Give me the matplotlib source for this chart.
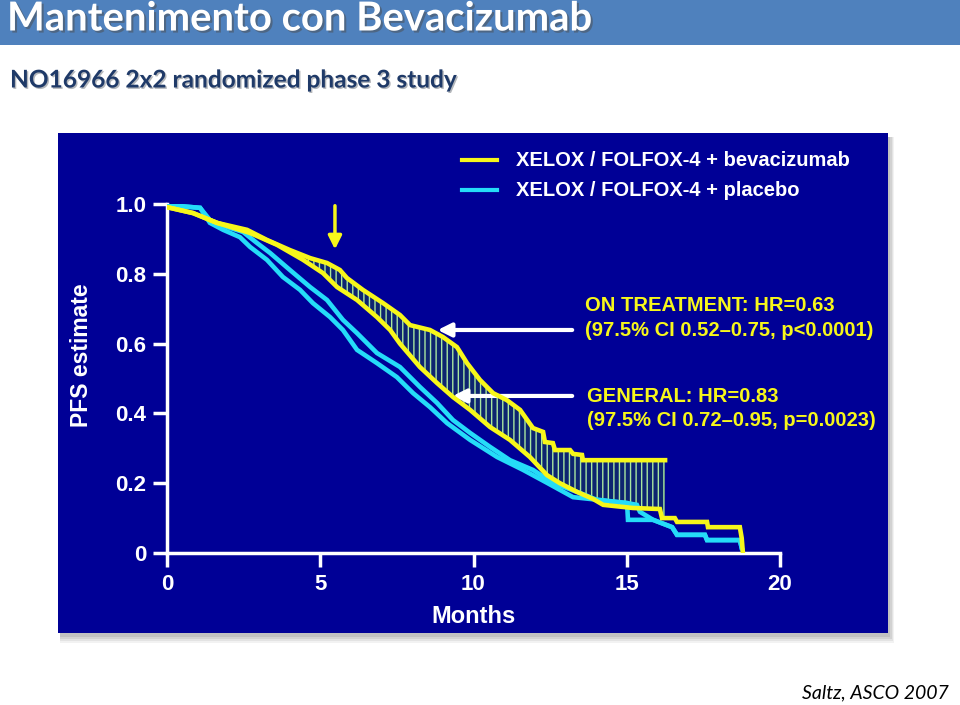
import numpy as np
import matplotlib.pyplot as plt
from matplotlib.patches import Rectangle
from matplotlib.lines import Line2D
import matplotlib.patheffects as pe

# PFS curves (months, PFS estimate)
bev_on_t = [0, 0.85, 1.63, 2.61, 3.26, 4.01, 4.67, 5.22, 5.64, 5.87, 6.39, 7.05, 7.60, 7.93,
            8.58, 9.00, 9.46, 9.79, 10.21, 10.64, 11.09, 11.52, 11.94, 12.27, 12.33, 12.59,
            12.66, 13.15, 13.25, 13.54, 13.57, 16.25]
bev_on_s = [0.991, 0.974, 0.946, 0.926, 0.897, 0.868, 0.845, 0.831, 0.811, 0.788, 0.754, 0.716,
            0.682, 0.653, 0.639, 0.619, 0.590, 0.544, 0.496, 0.458, 0.438, 0.410, 0.358, 0.347,
            0.318, 0.315, 0.295, 0.295, 0.284, 0.281, 0.266, 0.266]

bev_gen_t = [0, 0.85, 1.63, 2.71, 3.59, 4.44, 5.09, 5.55, 6.20, 6.85, 7.28, 7.60, 8.25, 8.81,
             9.33, 9.89, 10.54, 11.19, 11.84, 12.40, 12.82, 13.38, 13.90, 14.23, 15.20, 16.08,
             16.15, 16.57, 16.64, 17.62, 17.65, 18.69, 18.75, 18.79]
bev_gen_s = [0.991, 0.974, 0.946, 0.917, 0.883, 0.840, 0.802, 0.762, 0.725, 0.676, 0.639, 0.600,
             0.533, 0.487, 0.447, 0.410, 0.361, 0.324, 0.275, 0.223, 0.200, 0.175, 0.155, 0.138,
             0.129, 0.126, 0.100, 0.100, 0.089, 0.089, 0.074, 0.074, 0.043, 0.0]

pla_a_t = [0, 1.08, 1.40, 1.96, 2.48, 2.94, 3.36, 4.01, 4.67, 5.22, 5.74, 6.20, 6.85, 7.60,
           8.25, 8.81, 9.33, 9.89, 10.54, 11.19, 11.94, 12.59, 13.47, 14.03, 15.01, 15.04,
           15.86, 16.48, 16.64, 17.55, 17.62, 18.69, 18.75]
pla_a_s = [0.997, 0.989, 0.954, 0.934, 0.920, 0.888, 0.860, 0.811, 0.762, 0.725, 0.668, 0.630,
           0.573, 0.533, 0.476, 0.430, 0.381, 0.344, 0.304, 0.266, 0.238, 0.201, 0.172, 0.152,
           0.143, 0.095, 0.095, 0.074, 0.052, 0.052, 0.037, 0.037, 0.015]

pla_b_t = [0, 1.08, 1.40, 1.83, 2.38, 2.71, 3.26, 3.78, 4.34, 4.76, 5.32, 5.74, 6.20, 6.85,
           7.50, 8.03, 8.58, 9.14, 9.89, 10.77, 11.62, 12.40, 13.25, 14.11, 15.01, 15.33,
           15.43, 15.86, 16.48, 16.64, 17.55, 17.62, 18.69, 18.75]
pla_b_s = [0.997, 0.989, 0.946, 0.926, 0.905, 0.877, 0.840, 0.791, 0.754, 0.716, 0.676, 0.639,
           0.582, 0.544, 0.504, 0.458, 0.418, 0.372, 0.324, 0.275, 0.238, 0.201, 0.160, 0.152,
           0.143, 0.138, 0.118, 0.095, 0.074, 0.052, 0.052, 0.037, 0.037, 0.015]

x_ticks = [0, 5, 10, 15, 20]
y_ticks = [0, 0.2, 0.4, 0.6, 0.8, 1.0]
y_ticklabels = ['0', '0.2', '0.4', '0.6', '0.8', '1.0']

legend_labels = ['XELOX / FOLFOX-4 + bevacizumab', 'XELOX / FOLFOX-4 + placebo']
on_text = ['ON TREATMENT: HR=0.63', '(97.5% CI 0.52\u20130.75, p<0.0001)']
gen_text = ['GENERAL: HR=0.83', '(97.5% CI 0.72\u20130.95, p=0.0023)']

navy = '#000096'
yellow = '#f7f71a'
cyan = '#25dcf8'
W, H = 960, 705

plt.rcParams['font.family'] = ['Liberation Sans', 'DejaVu Sans']

fig = plt.figure(figsize=(9.6, 7.05), dpi=100)
fig.patch.set_facecolor('white')

def box(x0, y0, x1, y1, **kw):
    # rectangle given in slide pixels
    fig.add_artist(Rectangle((x0 / W, 1 - y1 / H), (x1 - x0) / W, (y1 - y0) / H,
                             transform=fig.transFigure, **kw))

# title bar
box(0, 0, W, 45, facecolor='#4f81bd', edgecolor='none', zorder=0)
fig.text(7 / W, 1 - 19 / H, 'Mantenimento con Bevacizumab', color='white', fontsize=28.8,
         family='Lato', fontweight='bold', va='center', ha='left',
         path_effects=[pe.withSimplePatchShadow(offset=(1.5, -1.5), alpha=0.5)])
fig.text(10 / W, 1 - 80 / H, 'NO16966 2x2 randomized phase 3 study', color='#1f3a68',
         fontsize=17.6, family='Lato', fontweight='bold', va='center', ha='left',
         path_effects=[pe.withSimplePatchShadow(offset=(1, -1), alpha=0.3)])
fig.text(949 / W, 1 - 693 / H, 'Saltz, ASCO 2007', color='black', fontsize=14,
         family='Lato', style='italic', va='center', ha='right')

# panel with soft shadow
for i, a in enumerate([0.05, 0.06, 0.07, 0.08]):
    d = 10 - 2 * i
    box(58 + 2, 133 + 4, 888 + d * 0.6, 633 + d, facecolor='black', alpha=a,
        edgecolor='none', zorder=0.5)
box(58, 133, 888, 633, facecolor=navy, edgecolor='none', zorder=1)

ax = fig.add_axes([167 / W, 1 - 553 / H, 613 / W, 349 / H])
ax.patch.set_alpha(0)
ax.set_zorder(2)

# hatched gain between the two bevacizumab curves
grid = np.linspace(0, bev_on_t[-1], 1200)
upper = np.interp(grid, bev_on_t, bev_on_s)
lower = np.interp(grid, bev_gen_t, bev_gen_s)
ax.fill_between(grid, lower, upper, where=upper > lower, interpolate=True,
                facecolor='#0d2470', edgecolor='#a8e6a0', hatch='|||', linewidth=0, zorder=2)

lw = 3.3
ax.plot(pla_b_t, pla_b_s, color=cyan, lw=lw, zorder=3, solid_joinstyle='miter')
ax.plot(pla_a_t, pla_a_s, color=cyan, lw=lw, zorder=3, solid_joinstyle='miter')
ax.plot(bev_gen_t, bev_gen_s, color=yellow, lw=lw, zorder=4, solid_joinstyle='miter')
ax.plot(bev_on_t, bev_on_s, color=yellow, lw=lw, zorder=4, solid_joinstyle='miter')

ax.set_xlim(0, 20)
ax.set_ylim(0, 1)
for s in ['top', 'right']:
    ax.spines[s].set_visible(False)
for s in ['left', 'bottom']:
    ax.spines[s].set_color('white')
    ax.spines[s].set_linewidth(2.5)
ax.set_xticks(x_ticks)
ax.set_xticklabels([str(v) for v in x_ticks])
ax.set_yticks(y_ticks)
ax.set_yticklabels(y_ticklabels)
ax.tick_params(colors='white', width=2.5, length=10, labelsize=16, pad=5)
for lab in ax.get_xticklabels() + ax.get_yticklabels():
    lab.set_fontweight('bold')
ax.set_xlabel('Months', color='white', fontsize=17, fontweight='bold', labelpad=7)
ax.text(-0.1387, 0.567, 'PFS estimate', transform=ax.transAxes, rotation=90, color='white',
        fontsize=16.5, fontweight='bold', ha='center', va='center')

# arrows
ax.annotate('', xy=(5.48, 0.862), xytext=(5.48, 1.003),
            arrowprops=dict(arrowstyle='-|>', color=yellow, lw=2.5, mutation_scale=20),
            annotation_clip=False)
ax.annotate('', xy=(8.74, 0.639), xytext=(13.31, 0.639),
            arrowprops=dict(arrowstyle='-|>', color='white', lw=3, mutation_scale=20),
            annotation_clip=False)
ax.annotate('', xy=(9.23, 0.450), xytext=(13.31, 0.450),
            arrowprops=dict(arrowstyle='-|>', color='white', lw=3, mutation_scale=20),
            annotation_clip=False)

# annotation text
for i, t in enumerate(on_text):
    fig.text(585 / W, 1 - (305 + 25 * i) / H, t, color=yellow, fontsize=14.5,
             fontweight='bold', va='center', ha='left', zorder=5)
for i, t in enumerate(gen_text):
    fig.text(587 / W, 1 - (396 + 24 * i) / H, t, color=yellow, fontsize=14.5,
             fontweight='bold', va='center', ha='left', zorder=5)

# legend
for i, (lab, c) in enumerate(zip(legend_labels, [yellow, cyan])):
    y = 1 - (160 + 30 * i) / H
    fig.add_artist(Line2D([462 / W, 497 / W], [y, y], color=c, lw=3,
                          transform=fig.transFigure, zorder=5))
    fig.text(516 / W, y, lab, color='white', fontsize=14.5, fontweight='bold',
             va='center', ha='left', zorder=5)

fig.savefig('out.png', dpi=100, facecolor=fig.get_facecolor())
